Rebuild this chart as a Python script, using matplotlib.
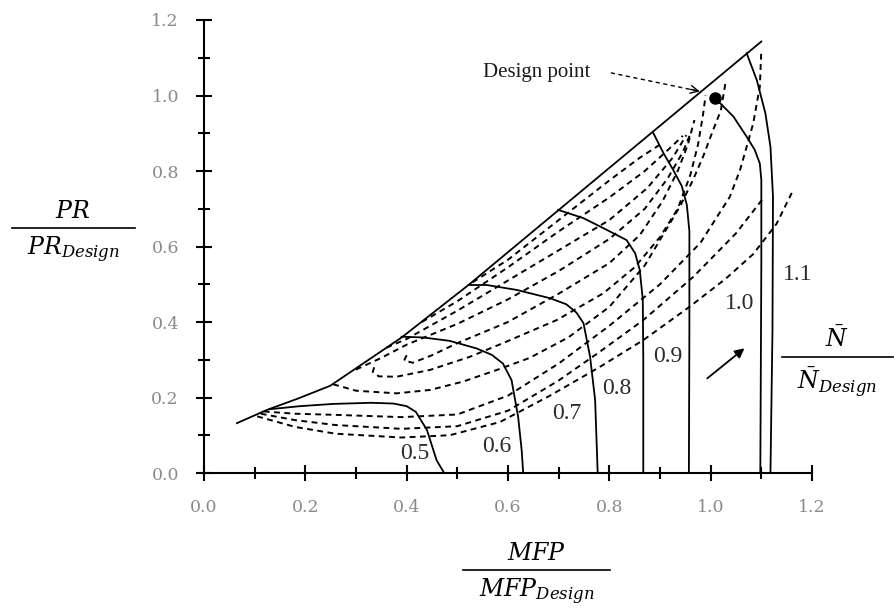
import matplotlib
matplotlib.use("Agg")
import matplotlib.pyplot as plt
import numpy as np
from matplotlib.lines import Line2D

plt.rcParams["mathtext.fontset"] = "dejavuserif"

# surge line (MFP/MFP_design, PR/PR_design)
surge = [(0.065, 0.132), (0.124, 0.167), (0.185, 0.197), (0.249, 0.231), (0.314, 0.290),
         (0.390, 0.359), (0.522, 0.498), (1.100, 1.143)]

# constant speed lines, N/N_design
speed_labels = ["0.5", "0.6", "0.7", "0.8", "0.9", "1.0", "1.1"]
n050 = [(0.130, 0.169), (0.189, 0.177), (0.255, 0.183), (0.330, 0.186), (0.374, 0.184),
        (0.400, 0.177), (0.418, 0.162), (0.440, 0.114), (0.459, 0.034), (0.474, 0.0)]
n060 = [(0.390, 0.361), (0.433, 0.359), (0.485, 0.350), (0.538, 0.330), (0.568, 0.313),
        (0.590, 0.290), (0.607, 0.246), (0.620, 0.149), (0.627, 0.060), (0.630, 0.0)]
n070 = [(0.522, 0.498), (0.558, 0.498), (0.617, 0.485), (0.683, 0.463), (0.715, 0.447),
        (0.735, 0.425), (0.749, 0.397), (0.762, 0.308), (0.772, 0.193), (0.777, 0.0)]
n080 = [(0.699, 0.697), (0.749, 0.675), (0.795, 0.644), (0.834, 0.617), (0.851, 0.582),
        (0.860, 0.538), (0.866, 0.460), (0.867, 0.300), (0.867, 0.0)]
n090 = [(0.887, 0.900), (0.907, 0.847), (0.926, 0.803), (0.943, 0.760), (0.953, 0.710),
        (0.958, 0.640), (0.958, 0.380), (0.957, 0.0)]
n100 = [(1.008, 0.990), (1.020, 0.978), (1.045, 0.944), (1.071, 0.891), (1.087, 0.856),
        (1.097, 0.820), (1.100, 0.776), (1.100, 0.556), (1.098, 0.0)]
n110 = [(1.071, 1.112), (1.091, 1.041), (1.108, 0.953), (1.118, 0.864), (1.123, 0.732),
        (1.122, 0.379), (1.118, 0.0)]

# constant efficiency contours (dashed)
eff_1 = [(0.105, 0.150), (0.180, 0.122), (0.260, 0.104), (0.390, 0.094), (0.485, 0.100),
         (0.584, 0.135), (0.683, 0.205), (0.780, 0.280), (0.867, 0.352), (0.958, 0.440),
         (1.030, 0.515), (1.084, 0.580), (1.130, 0.660), (1.163, 0.750)]
eff_2 = [(0.112, 0.157), (0.180, 0.140), (0.260, 0.127), (0.390, 0.117), (0.500, 0.124),
         (0.600, 0.165), (0.700, 0.245), (0.780, 0.320), (0.867, 0.405), (0.966, 0.520),
         (1.050, 0.635), (1.105, 0.730)]
eff_3 = [(0.118, 0.163), (0.180, 0.157), (0.260, 0.154), (0.390, 0.148), (0.500, 0.155),
         (0.600, 0.205), (0.700, 0.290), (0.800, 0.390), (0.900, 0.500), (0.980, 0.610),
         (1.038, 0.732), (1.058, 0.803), (1.071, 0.864), (1.084, 0.926), (1.091, 0.979),
         (1.097, 1.023), (1.100, 1.120)]
eff_4 = [(0.255, 0.235), (0.300, 0.218), (0.380, 0.211), (0.446, 0.220), (0.511, 0.242),
         (0.578, 0.273), (0.643, 0.305), (0.720, 0.360), (0.800, 0.440), (0.870, 0.550),
         (0.939, 0.705), (0.965, 0.776), (0.985, 0.838), (1.005, 0.909), (1.020, 0.960),
         (1.030, 1.040)]
eff_5 = [(0.336, 0.280), (0.333, 0.268), (0.345, 0.256), (0.380, 0.255), (0.446, 0.273),
         (0.525, 0.308), (0.590, 0.344), (0.696, 0.405), (0.788, 0.476), (0.850, 0.545),
         (0.900, 0.625), (0.935, 0.700), (0.960, 0.790), (0.975, 0.870), (0.985, 0.950),
         (0.990, 1.000)]
eff_6 = [(0.400, 0.312), (0.395, 0.298), (0.412, 0.292), (0.450, 0.312), (0.500, 0.344),
         (0.600, 0.400), (0.700, 0.475), (0.800, 0.556), (0.860, 0.630), (0.905, 0.720),
         (0.935, 0.800), (0.955, 0.870), (0.968, 0.935)]
eff_7 = [(0.300, 0.274), (0.350, 0.305), (0.400, 0.340), (0.500, 0.395), (0.600, 0.460),
         (0.700, 0.535), (0.800, 0.620), (0.870, 0.700), (0.915, 0.780), (0.945, 0.850),
         (0.962, 0.905)]
eff_8 = [(0.360, 0.332), (0.400, 0.355), (0.500, 0.430), (0.600, 0.510), (0.700, 0.590),
         (0.800, 0.670), (0.875, 0.755), (0.925, 0.835), (0.952, 0.895)]
eff_9 = [(0.430, 0.400), (0.500, 0.455), (0.600, 0.545), (0.700, 0.640), (0.800, 0.730),
         (0.870, 0.800), (0.915, 0.855), (0.945, 0.893)]
eff_10 = [(0.530, 0.505), (0.600, 0.565), (0.700, 0.670), (0.800, 0.775), (0.860, 0.835),
          (0.900, 0.870)]

design_point = (1.008, 0.993)

speed_lines = [n050, n060, n070, n080, n090, n100, n110]
eff_lines = [eff_1, eff_2, eff_3, eff_4, eff_5, eff_6, eff_7, eff_8, eff_9, eff_10]

W, H = 894, 613


def px(x, y):
    # pixel position -> figure fraction
    return x / W, 1 - y / H


fig = plt.figure(figsize=(W / 100, H / 100), dpi=100)
ax = fig.add_axes([204 / W, 1 - 473 / H, 608 / W, 453 / H])

for c in eff_lines:
    xs, ys = zip(*c)
    ax.plot(xs, ys, color="k", lw=1.4, linestyle=(0, (3.0, 2.3)), clip_on=False)

for c in speed_lines:
    xs, ys = zip(*c)
    ax.plot(xs, ys, color="k", lw=1.3, clip_on=False)

xs, ys = zip(*surge)
ax.plot(xs, ys, color="k", lw=1.3, clip_on=False)

ax.plot(*design_point, "o", color="k", ms=8, clip_on=False)

# speed labels
label_pos = [(0.416, 0.052), (0.578, 0.070), (0.716, 0.158), (0.814, 0.224),
             (0.916, 0.308), (1.058, 0.450), (1.172, 0.525)]
for lab, (lx, ly) in zip(speed_labels, label_pos):
    ax.text(lx, ly, lab, fontsize=17, family="Liberation Serif", color="#2b2b2b",
            ha="center", va="center")

# design point annotation
ax.text(0.762, 1.060, "Design point", fontsize=15, family="Liberation Serif",
        ha="right", va="center", color="#1a1a1a")
ax.plot([0.803, 0.982], [1.060, 1.010], color="k", lw=1.0, linestyle=(0, (3, 2.5)),
        clip_on=False)
ax.annotate("", xy=(0.984, 1.009), xytext=(0.955, 1.018),
            arrowprops=dict(arrowstyle="->", lw=1.0, color="k", mutation_scale=14))

# direction arrow
ax.annotate("", xy=(1.071, 0.335), xytext=(0.989, 0.246),
            arrowprops=dict(arrowstyle="-|>", lw=1.3, color="k", mutation_scale=14))

ax.set_xlim(0, 1.2)
ax.set_ylim(0, 1.2)
ax.set_xticks(np.arange(0, 1.21, 0.2))
ax.set_yticks(np.arange(0, 1.21, 0.2))
ax.set_xticks(np.arange(0.1, 1.2, 0.2), minor=True)
ax.set_yticks(np.arange(0.1, 1.2, 0.2), minor=True)
ax.tick_params(which="major", direction="inout", length=12, width=1.5)
ax.tick_params(which="minor", direction="inout", length=9, width=1.5)
ax.tick_params(axis="x", which="major", pad=13)
ax.tick_params(axis="y", which="major", pad=12)
for lab in ax.get_xticklabels() + ax.get_yticklabels():
    lab.set_fontfamily("DejaVu Serif")
    lab.set_fontsize(12.5)
    lab.set_color("#8a8a8a")
for s in ["top", "right"]:
    ax.spines[s].set_visible(False)
for s in ["left", "bottom"]:
    ax.spines[s].set_linewidth(1.5)


# fraction style axis labels
def frac_label(xc, ybar, x0, x1, num, den):
    fig.add_artist(Line2D([x0 / W, x1 / W], [1 - ybar / H, 1 - ybar / H],
                          transform=fig.transFigure, color="k", lw=1.2))
    fig.text(*px(xc, ybar - 5), num, ha="center", va="bottom", fontsize=17)
    fig.text(*px(xc, ybar + 7), den, ha="center", va="top", fontsize=17)


frac_label(73, 228, 12, 135, r"$PR$", r"$PR_{Design}$")
frac_label(537, 570, 463, 610, r"$MFP$", r"$MFP_{Design}$")
frac_label(837, 357, 782, 893, r"$\bar{N}$", r"$\bar{N}_{Design}$")

fig.savefig("out.png", dpi=100)
